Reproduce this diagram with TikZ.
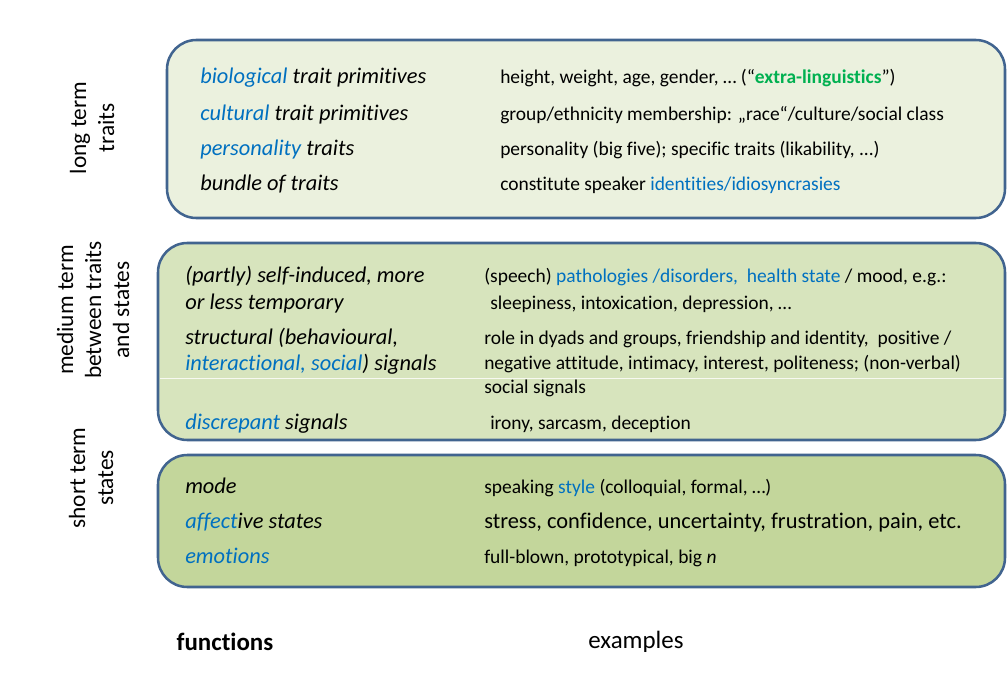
\documentclass[tikz,border=0pt]{standalone}
\usepackage{fontspec}
\setmainfont{Carlito}[Ligatures=NoCommon]
\usetikzlibrary{positioning}
\definecolor{hiblue}{HTML}{0070C0}
\definecolor{higreen}{HTML}{00B050}
\definecolor{frame}{HTML}{41648F}
\definecolor{longfill}{HTML}{EBF1DE}
\definecolor{midfill}{HTML}{D7E4BD}
\definecolor{shortfill}{HTML}{C3D69B}
\newcommand{\hb}[1]{\textcolor{hiblue}{#1}}

\begin{document}
\begin{tikzpicture}[x=0.75pt,y=-0.75pt,
  band/.style={draw=frame,line width=1.9pt,rounded corners=22pt},
  fn/.style={anchor=base west,inner sep=0pt,font=\fontsize{16.8}{19}\selectfont\itshape},
  ex/.style={anchor=base west,inner sep=0pt,font=\fontsize{14.6}{17}\selectfont},
  side/.style={rotate=90,align=center,font=\fontsize{17.5}{21}\selectfont}]
\useasboundingbox (0,0) rectangle (1007,692);

% the three bands
\path[band,fill=longfill] (167,40) rectangle (1005,218);
\path[band,fill=midfill] (158,243) rectangle (1005,440);
\path[band,fill=shortfill] (158,455) rectangle (1005,587);
\draw[white,line width=0.4pt,opacity=0.8] (160,378) -- (1003,378);

% side labels
\node[side] (long) at (92,128) {long term\\traits};
\node[side] (medium) at (93,310) {medium term\\between traits\\and states};
\node[side] (short) at (91,478) {short term\\states};

% long term traits
\node[fn] (bio) at (200,84) {\hb{biological} trait primitives};
\node[fn] (cult) at (200,120) {\hb{cultural} trait primitives};
\node[fn] (pers) at (200,155) {\hb{personality} traits};
\node[fn] (bund) at (200,190) {bundle of traits};
\node[ex] (bioex) at (500,84) {height, weight, age, gender, … (“\textbf{\textcolor{higreen}{extra-linguistics}}”)};
\node[ex] (cultex) at (500,120) {group/ethnicity membership: „race“/culture/social class};
\node[ex] (persex) at (500,155) {personality (big five); specific traits (likability, ...)};
\node[ex] (bundex) at (500,190) {constitute speaker \hb{identities/idiosyncrasies}};

% medium term
\node[fn] (self) at (185,282) {(partly) self-induced, more};
\node[fn] (selfb) at (185,309) {or less temporary};
\node[fn] (struct) at (185,344) {structural (behavioural,};
\node[fn] (structb) at (185,370) {\hb{interactional, social}) signals};
\node[fn] (disc) at (185,429) {\hb{discrepant} signals};
\node[ex] (selfex) at (484,282) {(speech) \hb{pathologies /disorders,\ \ health state} / mood, e.g.:};
\node[ex] (selfexb) at (490,309) {sleepiness, intoxication, depression, …};
\node[ex] (structex) at (484,344) {role in dyads and groups, friendship and identity,\ \ positive /};
\node[ex] (structexb) at (484,369) {negative attitude, intimacy, interest, politeness; (non-verbal)};
\node[ex] (structexc) at (484,393) {social signals};
\node[ex] (discex) at (490,429) {irony, sarcasm, deception};

% short term states
\node[fn] (mode) at (185,493) {mode};
\node[fn] (aff) at (185,528) {\hb{affect}ive states};
\node[fn] (emo) at (185,563) {\hb{emotions}};
\node[ex] (modeex) at (484,493) {speaking \hb{style} (colloquial, formal, …)};
\node[ex,font=\fontsize{16.8}{19}\selectfont] (affex) at (484,528) {stress, confidence, uncertainty, frustration, pain, etc.};
\node[ex] (emoex) at (484,563) {full-blown, prototypical, big \textit{n}};

% column heads
\node[font=\fontsize{18.7}{22}\selectfont\bfseries] (func) at (225,642) {functions};
\node[font=\fontsize{18.7}{22}\selectfont] (exam) at (636,642) {examples};
\end{tikzpicture}
\end{document}
